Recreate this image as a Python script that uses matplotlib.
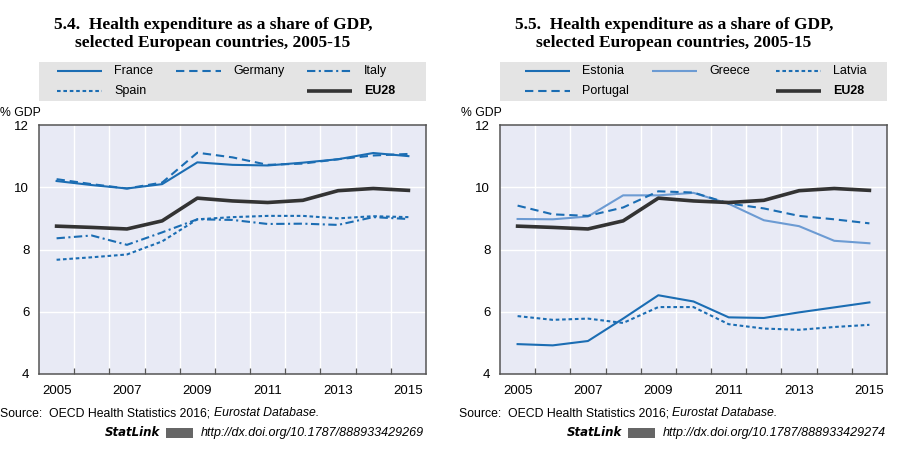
import matplotlib
matplotlib.use("Agg")
import matplotlib.pyplot as plt
from matplotlib.lines import Line2D
from matplotlib.patches import Rectangle
from matplotlib.text import Annotation

plt.rcParams['lines.scale_dashes'] = False

# ---------------- data ----------------
years = [2005, 2006, 2007, 2008, 2009, 2010, 2011, 2012, 2013, 2014, 2015]
year_labels = ["2005", "2007", "2009", "2011", "2013", "2015"]
y_ticks = [4, 6, 8, 10, 12]

france   = [10.20, 10.07, 9.96, 10.10, 10.80, 10.72, 10.70, 10.79, 10.90, 11.10, 11.00]
germany  = [10.26, 10.10, 9.96, 10.15, 11.11, 10.96, 10.72, 10.76, 10.90, 11.02, 11.07]
italy    = [8.36, 8.45, 8.15, 8.55, 8.97, 8.95, 8.82, 8.83, 8.79, 9.04, 8.98]
spain    = [7.67, 7.75, 7.84, 8.26, 8.97, 9.04, 9.08, 9.08, 9.00, 9.07, 9.04]
eu28     = [8.75, 8.71, 8.66, 8.92, 9.65, 9.56, 9.51, 9.58, 9.89, 9.96, 9.90]

estonia  = [4.96, 4.92, 5.06, 5.78, 6.53, 6.33, 5.82, 5.80, 5.98, 6.14, 6.30]
greece   = [8.98, 8.97, 9.06, 9.74, 9.74, 9.82, 9.47, 8.94, 8.75, 8.28, 8.20]
latvia   = [5.86, 5.74, 5.78, 5.64, 6.15, 6.15, 5.60, 5.46, 5.42, 5.51, 5.58]
portugal = [9.41, 9.13, 9.08, 9.35, 9.87, 9.83, 9.48, 9.32, 9.08, 8.97, 8.84]

# ---------------- styles ----------------
W, H = 919, 451
BLUE = "#1b6db3"
LBLUE = "#6c9bd3"
BLACK = "#333333"
BG = "#e8eaf5"
SANS = ["Liberation Sans", "DejaVu Sans"]
SERIF = ["Liberation Serif", "DejaVu Serif"]

solid = dict(color=BLUE, lw=1.5, ls="-")
dashed = dict(color=BLUE, lw=1.5, ls=(0, (6, 3.5)))
dashdot = dict(color=BLUE, lw=1.5, ls=(0, (6, 2.5, 1.5, 2.5)))
dotted = dict(color=BLUE, lw=1.5, ls=(0, (2.6, 2.0)))
light = dict(color=LBLUE, lw=1.5, ls="-")
eu = dict(color=BLACK, lw=2.6, ls="-")


def fx(px):
    return px / W


def fy(py):
    return 1 - py / H


fig = plt.figure(figsize=(W / 100, H / 100), dpi=100)


def panel(left_px, title, series, legend_cols, source_x, statlink_x, url):
    ax = fig.add_axes([fx(left_px), fy(374), fx(387), (374 - 125) / H])
    ax.set_facecolor(BG)
    xs = list(range(len(years)))
    for name, vals, st in series:
        z = 3 if name == "EU28" else 2
        ax.plot(xs, vals, zorder=z, **st)
    ax.set_xlim(-0.5, len(years) - 0.5)
    ax.set_ylim(4, 12)
    ax.set_yticks(y_ticks)
    ax.set_yticklabels([str(v) for v in y_ticks], fontfamily=SANS, fontsize=9.5)
    ax.tick_params(axis="y", length=0, pad=7)
    major = [years.index(int(y)) for y in year_labels]
    ax.set_xticks(major)
    ax.set_xticklabels(year_labels, fontfamily=SANS, fontsize=9.5)
    ax.tick_params(axis="x", which="major", length=0, pad=8)
    ax.set_xticks([i + 0.5 for i in range(len(years) - 1)], minor=True)
    ax.tick_params(axis="x", which="minor", direction="in", length=4,
                   width=0.9, color="#555555")
    for v in [i + 0.5 for i in range(len(years) - 1)]:
        ax.axvline(v, color="white", lw=1.0, zorder=1)
    for v in [6, 8, 10]:
        ax.axhline(v, color="white", lw=1.0, zorder=1)
    for s in ax.spines.values():
        s.set_color("#555555")
        s.set_linewidth(1.1)
    fig.text(fx(left_px - 39), fy(113), "% GDP", ha="left", va="center",
             fontfamily=SANS, fontsize=8.8)

    # title
    cx = left_px + 174
    fig.text(fx(cx), fy(25), title[0], ha="center", va="center",
             fontfamily=SERIF, fontweight="bold", fontsize=12.5)
    fig.text(fx(cx), fy(43), title[1], ha="center", va="center",
             fontfamily=SERIF, fontweight="bold", fontsize=12.5)

    # legend box
    fig.add_artist(Rectangle((fx(left_px), fy(101)), fx(387), (101 - 62) / H,
                             transform=fig.transFigure, facecolor="#e4e4e4",
                             edgecolor="none", zorder=0))
    for (name, st, lx, row) in legend_cols:
        yy = fy(71 if row == 0 else 91)
        fig.add_artist(Line2D([fx(lx), fx(lx + 45)], [yy, yy],
                              transform=fig.transFigure, solid_capstyle="butt",
                              **st))
        fig.text(fx(lx + 57), yy, name, ha="left", va="center",
                 fontfamily=SANS, fontsize=9,
                 fontweight="bold" if name == "EU28" else "normal")

    # source
    t1 = fig.text(fx(source_x), fy(413), "Source:  OECD Health Statistics 2016; ",
                  ha="left", va="center", fontfamily=SANS, fontsize=8.8)
    fig.add_artist(Annotation(
        "Eurostat Database.", xy=(1, 0.5), xycoords=t1, ha="left", va="center",
        fontfamily=SANS, fontsize=8.8, style="italic"))
    fig.text(fx(statlink_x), fy(433), "StatLink", ha="left", va="center",
             fontfamily=["DejaVu Sans"], fontsize=8.5, fontweight="bold",
             style="italic")
    fig.add_artist(Rectangle((fx(statlink_x + 61), fy(438)), fx(27), 10 / H,
                             transform=fig.transFigure, facecolor="#666666",
                             edgecolor="none"))
    fig.text(fx(statlink_x + 96), fy(433), url, ha="left", va="center",
             fontfamily=SANS, fontsize=9, style="italic")
    return ax


panel(39,
      ["5.4.  Health expenditure as a share of GDP,",
       "selected European countries, 2005-15"],
      [("France", france, solid), ("Germany", germany, dashed),
       ("Italy", italy, dashdot), ("Spain", spain, dotted),
       ("EU28", eu28, eu)],
      [("France", solid, 57, 0), ("Germany", dashed, 176, 0),
       ("Italy", dashdot, 307, 0), ("Spain", dotted, 57, 1),
       ("EU28", eu, 307, 1)],
      0, 105, "http://dx.doi.org/10.1787/888933429269")

panel(500,
      ["5.5.  Health expenditure as a share of GDP,",
       "selected European countries, 2005-15"],
      [("Estonia", estonia, solid), ("Greece", greece, light),
       ("Latvia", latvia, dotted), ("Portugal", portugal, dashed),
       ("EU28", eu28, eu)],
      [("Estonia", solid, 525, 0), ("Greece", light, 652, 0),
       ("Latvia", dotted, 776, 0), ("Portugal", dashed, 525, 1),
       ("EU28", eu, 776, 1)],
      459, 567, "http://dx.doi.org/10.1787/888933429274")

fig.savefig("out.png", dpi=100)
